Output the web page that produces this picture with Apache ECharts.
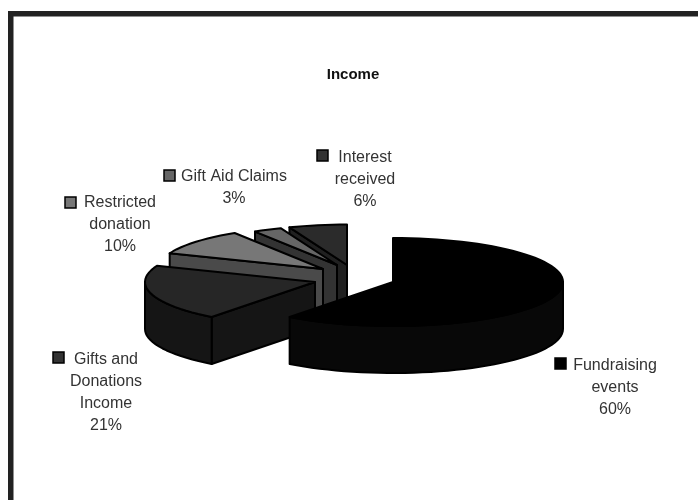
<!DOCTYPE html>
<html>
<head>
<meta charset="utf-8">
<style>html,body{margin:0;padding:0;background:#fff}#c{width:698px;height:500px;filter:blur(0.45px)}</style>
<script src="https://cdn.jsdelivr.net/npm/echarts@6/dist/echarts.min.js"></script>
</head>
<body>
<div id="c"></div>
<script>
// --- data ---
var categories = ['Fundraising\nevents', 'Gifts and\nDonations\nIncome', 'Restricted\ndonation', 'Gift Aid Claims', 'Interest\nreceived'];
var values = [60.4, 20.6, 10, 3, 6];

// --- styling / layout of the exploded 3-D view ---
var topColors  = ['#000000', '#262626', '#777777', '#666666', '#2b2b2b'];
var sideColors = ['#080808', '#151515', '#4a4a4a', '#333333', '#202020'];
var keyColors  = ['#000000', '#333333', '#777777', '#666666', '#333333'];
var explodeX = [0, -78, -70, -56, -46];
var explodeY = [0, 0, -13, -17, -17];
var radiusScale = [1, 1, 0.97, 0.9, 0.92];
var labelX = [615, 106, 120, 234, 365];
var labelY = [388, 393, 225, 188, 179.5];
var keyX = [555, 53, 65, 164, 317];
var keyY = [358, 352, 197, 170, 150];
var CX = 393, CY = 282, RX = 170, RY = 44, DEPTH = 47;

var total = values.reduce(function (a, b) { return a + b; }, 0);
var rows = [], acc = 0;
values.forEach(function (v, i) {
  rows.push([i, acc / total * 360, (acc + v) / total * 360]);
  acc += v;
});
rows.reverse(); // painter's order: far slices first

function pt(i, deg, dy) {
  var a = deg * Math.PI / 180, s = radiusScale[i];
  return [CX + explodeX[i] + RX * s * Math.sin(a),
          CY + explodeY[i] - RY * s * Math.cos(a) + (dy || 0)];
}
function arc(i, from, to, dy) {
  var out = [], n = Math.max(2, Math.ceil((to - from) / 3));
  for (var k = 0; k <= n; k++) out.push(pt(i, from + (to - from) * k / n, dy));
  return out;
}
function poly(points, fill) {
  return { type: 'polygon', shape: { points: points },
    style: { fill: fill, stroke: '#000', lineWidth: 2, lineJoin: 'round' } };
}
function renderSlice(params, api) {
  var i = api.value(0), s = api.value(1), e = api.value(2);
  var apex = [CX + explodeX[i], CY + explodeY[i]];
  var children = [];
  // start-edge wall
  if (s >= 180) {
    var o = pt(i, s);
    children.push(poly([o, apex, [apex[0], apex[1] + DEPTH], [o[0], o[1] + DEPTH]], sideColors[i]));
  }
  // outer curved wall (front half only)
  var a = Math.max(s, 90), b = Math.min(e, 270);
  if (b > a) {
    children.push(poly(arc(i, a, b).concat(arc(i, a, b, DEPTH).reverse()), sideColors[i]));
  }
  // top face
  children.push(poly([apex].concat(arc(i, s, e)), topColors[i]));
  return { type: 'group', children: children };
}
function renderLabel(params, api) {
  var i = api.value(0);
  return { type: 'group', children: [
    { type: 'rect', shape: { x: keyX[i], y: keyY[i], width: 11, height: 11 },
      style: { fill: keyColors[i], stroke: '#000', lineWidth: 1.5 } },
    { type: 'text', style: { x: labelX[i], y: labelY[i],
      text: categories[i] + '\n' + Math.round(values[i]) + '%',
      align: 'center', verticalAlign: 'middle', lineHeight: 22,
      font: '16px "Liberation Sans", Arial, sans-serif', fill: '#333' } }
  ] };
}

var chart = echarts.init(document.getElementById('c'), null, { renderer: 'canvas', width: 698, height: 500 });
chart.setOption({
  animation: false,
  backgroundColor: '#ffffff',
  title: { text: 'Income', left: 348, top: 62, textAlign: 'center',
    textStyle: { fontFamily: '"Liberation Sans", Arial, sans-serif', fontSize: 15, fontWeight: 'bold', color: '#111' } },
  graphic: [
    { type: 'rect', shape: { x: 8, y: 11, width: 690, height: 5.5 }, style: { fill: '#222' } },
    { type: 'rect', shape: { x: 8, y: 11, width: 5.5, height: 489 }, style: { fill: '#222' } }
  ],
  series: [
    { type: 'custom', coordinateSystem: 'none', data: rows, renderItem: renderSlice, silent: true, z: 2 },
    { type: 'custom', coordinateSystem: 'none', data: rows, renderItem: renderLabel, silent: true, z: 3 }
  ]
});
</script>
</body>
</html>
